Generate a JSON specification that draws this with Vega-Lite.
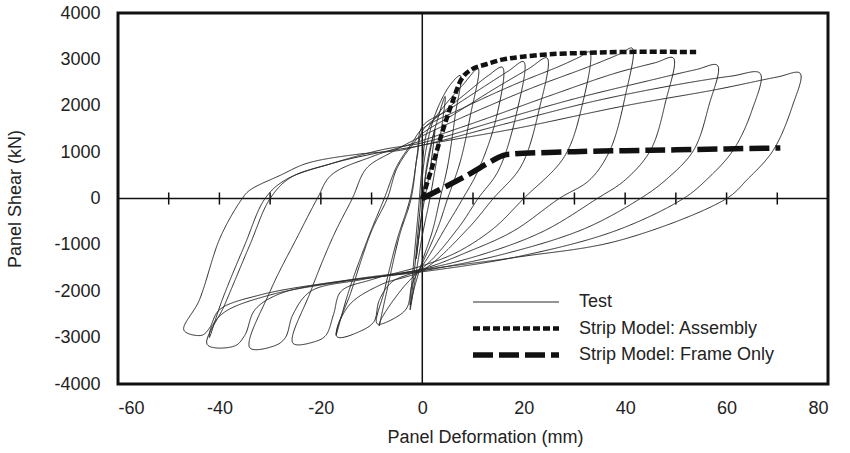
{
  "$schema": "https://vega.github.io/schema/vega-lite/v6.json",
  "width": 710,
  "height": 371,
  "autosize": "none",
  "padding": {"left": 118, "top": 13, "right": 22, "bottom": 69},
  "background": "white",
  "config": {
    "view": {"stroke": "#111", "strokeWidth": 3},
    "font": "Liberation Sans",
    "axis": {"grid": false, "ticks": false, "domain": false, "labelFont": "Liberation Sans", "labelFontSize": 18, "labelColor": "#222", "titleFont": "Liberation Sans", "titleFontSize": 18, "titleFontWeight": "normal", "titleColor": "#222"},
    "legend": {"orient": "none", "legendX": 352, "legendY": 279, "padding": 0, "symbolType": "stroke", "symbolSize": 7396, "clipHeight": 20, "rowPadding": 6.5, "labelOffset": 17, "labelFontSize": 18, "labelFont": "Liberation Sans", "labelColor": "#222", "labelLimit": 400}
  },
  "datasets": {
    "axes": [
      {"x": 0, "x2": 0, "y": -4000, "y2": 4000},
      {"x": -60, "x2": 80, "y": 0, "y2": 0}
    ],
    "ticks": [
      {"x": -50, "y": -130, "y2": 130}, {"x": -40, "y": -130, "y2": 130}, {"x": -30, "y": -130, "y2": 130}, {"x": -20, "y": -130, "y2": 130}, {"x": -10, "y": -130, "y2": 130},
      {"x": 10, "y": -130, "y2": 130}, {"x": 20, "y": -130, "y2": 130}, {"x": 30, "y": -130, "y2": 130}, {"x": 40, "y": -130, "y2": 130}, {"x": 50, "y": -130, "y2": 130}, {"x": 60, "y": -130, "y2": 130}, {"x": 70, "y": -130, "y2": 130}
    ],
    "curves": [
      {"series": "Test", "i": 1, "x": 0, "y": 0},
      {"series": "Test", "i": 2, "x": 1, "y": 700},
      {"series": "Test", "i": 3, "x": 2.5, "y": 1500},
      {"series": "Test", "i": 4, "x": 1.5, "y": 600},
      {"series": "Test", "i": 5, "x": 0, "y": -300},
      {"series": "Test", "i": 6, "x": -1.2, "y": -1300},
      {"series": "Test", "i": 7, "x": 0, "y": -200},
      {"series": "Test", "i": 8, "x": 1, "y": 800},
      {"series": "Test", "i": 9, "x": 3, "y": 1700},
      {"series": "Test", "i": 10, "x": 4.5, "y": 2200},
      {"series": "Test", "i": 11, "x": 3.5, "y": 1300},
      {"series": "Test", "i": 12, "x": 1.5, "y": 0},
      {"series": "Test", "i": 13, "x": 0, "y": -800},
      {"series": "Test", "i": 14, "x": -1.5, "y": -1800},
      {"series": "Test", "i": 15, "x": -2.4, "y": -2400},
      {"series": "Test", "i": 16, "x": -1.5, "y": -1500},
      {"series": "Test", "i": 17, "x": -0.5, "y": -300},
      {"series": "Test", "i": 18, "x": 0.5, "y": 900},
      {"series": "Test", "i": 19, "x": 2.5, "y": 1800},
      {"series": "Test", "i": 20, "x": 5.5, "y": 2450},
      {"series": "Test", "i": 21, "x": 7.5, "y": 2650},
      {"series": "Test", "i": 22, "x": 6.5, "y": 1800},
      {"series": "Test", "i": 23, "x": 5, "y": 700},
      {"series": "Test", "i": 24, "x": 3.5, "y": 0},
      {"series": "Test", "i": 25, "x": 2, "y": -700},
      {"series": "Test", "i": 26, "x": 0, "y": -1350},
      {"series": "Test", "i": 27, "x": -1.5, "y": -1900},
      {"series": "Test", "i": 28, "x": -2.4, "y": -2300},
      {"series": "Test", "i": 29, "x": -1.8, "y": -1500},
      {"series": "Test", "i": 30, "x": -0.8, "y": -300},
      {"series": "Test", "i": 31, "x": 0, "y": 700},
      {"series": "Test", "i": 32, "x": 1, "y": 1450},
      {"series": "Test", "i": 33, "x": 4, "y": 1950},
      {"series": "Test", "i": 34, "x": 8, "y": 2450},
      {"series": "Test", "i": 35, "x": 11, "y": 2800},
      {"series": "Test", "i": 36, "x": 9.5, "y": 1800},
      {"series": "Test", "i": 37, "x": 7.5, "y": 800},
      {"series": "Test", "i": 38, "x": 5, "y": 0},
      {"series": "Test", "i": 39, "x": 3, "y": -650},
      {"series": "Test", "i": 40, "x": 0, "y": -1400},
      {"series": "Test", "i": 41, "x": -2, "y": -1850},
      {"series": "Test", "i": 42, "x": -3, "y": -2350},
      {"series": "Test", "i": 43, "x": -5, "y": -2550},
      {"series": "Test", "i": 44, "x": -8.9, "y": -2700},
      {"series": "Test", "i": 45, "x": -7.5, "y": -2000},
      {"series": "Test", "i": 46, "x": -5, "y": -900},
      {"series": "Test", "i": 47, "x": -2.4, "y": 0},
      {"series": "Test", "i": 48, "x": -1, "y": 900},
      {"series": "Test", "i": 49, "x": 0, "y": 1450},
      {"series": "Test", "i": 50, "x": 4, "y": 1850},
      {"series": "Test", "i": 51, "x": 9, "y": 2300},
      {"series": "Test", "i": 52, "x": 13, "y": 2650},
      {"series": "Test", "i": 53, "x": 15.8, "y": 2830},
      {"series": "Test", "i": 54, "x": 14.5, "y": 1700},
      {"series": "Test", "i": 55, "x": 11, "y": 600},
      {"series": "Test", "i": 56, "x": 8, "y": 0},
      {"series": "Test", "i": 57, "x": 5, "y": -550},
      {"series": "Test", "i": 58, "x": 0, "y": -1450},
      {"series": "Test", "i": 59, "x": -4, "y": -1950},
      {"series": "Test", "i": 60, "x": -7, "y": -2400},
      {"series": "Test", "i": 61, "x": -8.3, "y": -2650},
      {"series": "Test", "i": 62, "x": -8.5, "y": -2750},
      {"series": "Test", "i": 63, "x": -7, "y": -2000},
      {"series": "Test", "i": 64, "x": -4.5, "y": -800},
      {"series": "Test", "i": 65, "x": -2.2, "y": 0},
      {"series": "Test", "i": 66, "x": -1, "y": 950},
      {"series": "Test", "i": 67, "x": 0, "y": 1550},
      {"series": "Test", "i": 68, "x": 5, "y": 1900},
      {"series": "Test", "i": 69, "x": 12, "y": 2400},
      {"series": "Test", "i": 70, "x": 17, "y": 2750},
      {"series": "Test", "i": 71, "x": 20, "y": 2950},
      {"series": "Test", "i": 72, "x": 18.5, "y": 1800},
      {"series": "Test", "i": 73, "x": 15, "y": 600},
      {"series": "Test", "i": 74, "x": 11, "y": 0},
      {"series": "Test", "i": 75, "x": 7, "y": -650},
      {"series": "Test", "i": 76, "x": 0, "y": -1500},
      {"series": "Test", "i": 77, "x": -6, "y": -1800},
      {"series": "Test", "i": 78, "x": -8.5, "y": -2200},
      {"series": "Test", "i": 79, "x": -9.5, "y": -2650},
      {"series": "Test", "i": 80, "x": -12, "y": -2850},
      {"series": "Test", "i": 81, "x": -16.8, "y": -2980},
      {"series": "Test", "i": 82, "x": -14, "y": -2000},
      {"series": "Test", "i": 83, "x": -10, "y": -700},
      {"series": "Test", "i": 84, "x": -6.9, "y": 0},
      {"series": "Test", "i": 85, "x": -5, "y": 650},
      {"series": "Test", "i": 86, "x": -2, "y": 1150},
      {"series": "Test", "i": 87, "x": 0, "y": 1400},
      {"series": "Test", "i": 88, "x": 6, "y": 1800},
      {"series": "Test", "i": 89, "x": 14, "y": 2350},
      {"series": "Test", "i": 90, "x": 21, "y": 2800},
      {"series": "Test", "i": 91, "x": 24.6, "y": 3030},
      {"series": "Test", "i": 92, "x": 23, "y": 1900},
      {"series": "Test", "i": 93, "x": 19.5, "y": 700},
      {"series": "Test", "i": 94, "x": 14, "y": 0},
      {"series": "Test", "i": 95, "x": 9, "y": -650},
      {"series": "Test", "i": 96, "x": 0, "y": -1550},
      {"series": "Test", "i": 97, "x": -8, "y": -1850},
      {"series": "Test", "i": 98, "x": -14, "y": -2250},
      {"series": "Test", "i": 99, "x": -16.5, "y": -2700},
      {"series": "Test", "i": 100, "x": -17, "y": -2950},
      {"series": "Test", "i": 101, "x": -14.5, "y": -2000},
      {"series": "Test", "i": 102, "x": -10.5, "y": -800},
      {"series": "Test", "i": 103, "x": -7.5, "y": 0},
      {"series": "Test", "i": 104, "x": -5, "y": 700},
      {"series": "Test", "i": 105, "x": -2, "y": 1200},
      {"series": "Test", "i": 106, "x": 0, "y": 1500},
      {"series": "Test", "i": 107, "x": 8, "y": 1950},
      {"series": "Test", "i": 108, "x": 18, "y": 2450},
      {"series": "Test", "i": 109, "x": 27, "y": 2850},
      {"series": "Test", "i": 110, "x": 31, "y": 3050},
      {"series": "Test", "i": 111, "x": 33, "y": 3160},
      {"series": "Test", "i": 112, "x": 31.5, "y": 2000},
      {"series": "Test", "i": 113, "x": 28, "y": 900},
      {"series": "Test", "i": 114, "x": 20, "y": 0},
      {"series": "Test", "i": 115, "x": 14, "y": -650},
      {"series": "Test", "i": 116, "x": 7, "y": -1150},
      {"series": "Test", "i": 117, "x": 0, "y": -1450},
      {"series": "Test", "i": 118, "x": -10, "y": -1750},
      {"series": "Test", "i": 119, "x": -16, "y": -2000},
      {"series": "Test", "i": 119.5, "x": -17.5, "y": -2500},
      {"series": "Test", "i": 120, "x": -19, "y": -2950},
      {"series": "Test", "i": 121, "x": -21, "y": -3080},
      {"series": "Test", "i": 122, "x": -25.5, "y": -3120},
      {"series": "Test", "i": 123, "x": -22, "y": -2000},
      {"series": "Test", "i": 124, "x": -17.5, "y": -800},
      {"series": "Test", "i": 125, "x": -13.8, "y": 0},
      {"series": "Test", "i": 126, "x": -11, "y": 650},
      {"series": "Test", "i": 127, "x": -6, "y": 1000},
      {"series": "Test", "i": 128, "x": 0, "y": 1350},
      {"series": "Test", "i": 129, "x": 10, "y": 1850},
      {"series": "Test", "i": 130, "x": 22, "y": 2400},
      {"series": "Test", "i": 131, "x": 33, "y": 2850},
      {"series": "Test", "i": 132, "x": 39, "y": 3120},
      {"series": "Test", "i": 133, "x": 41.4, "y": 3240},
      {"series": "Test", "i": 134, "x": 40, "y": 2200},
      {"series": "Test", "i": 135, "x": 37, "y": 1040},
      {"series": "Test", "i": 136, "x": 33, "y": 400},
      {"series": "Test", "i": 137, "x": 27, "y": 0},
      {"series": "Test", "i": 138, "x": 18, "y": -700},
      {"series": "Test", "i": 139, "x": 9, "y": -1150},
      {"series": "Test", "i": 140, "x": 0, "y": -1520},
      {"series": "Test", "i": 141, "x": -12, "y": -1750},
      {"series": "Test", "i": 142, "x": -22, "y": -2000},
      {"series": "Test", "i": 142.5, "x": -25.5, "y": -2500},
      {"series": "Test", "i": 143, "x": -27, "y": -3000},
      {"series": "Test", "i": 144, "x": -29, "y": -3170},
      {"series": "Test", "i": 145, "x": -34, "y": -3220},
      {"series": "Test", "i": 146, "x": -30, "y": -2000},
      {"series": "Test", "i": 147, "x": -24.5, "y": -800},
      {"series": "Test", "i": 148, "x": -20.7, "y": 0},
      {"series": "Test", "i": 149, "x": -18, "y": 500},
      {"series": "Test", "i": 150, "x": -10, "y": 900},
      {"series": "Test", "i": 151, "x": 0, "y": 1250},
      {"series": "Test", "i": 152, "x": 12, "y": 1700},
      {"series": "Test", "i": 153, "x": 26, "y": 2250},
      {"series": "Test", "i": 154, "x": 38, "y": 2700},
      {"series": "Test", "i": 155, "x": 46, "y": 2930},
      {"series": "Test", "i": 156, "x": 49.5, "y": 3030},
      {"series": "Test", "i": 157, "x": 48, "y": 2100},
      {"series": "Test", "i": 158, "x": 45, "y": 1040},
      {"series": "Test", "i": 159, "x": 40, "y": 400},
      {"series": "Test", "i": 160, "x": 34.5, "y": 0},
      {"series": "Test", "i": 161, "x": 24, "y": -700},
      {"series": "Test", "i": 162, "x": 12, "y": -1200},
      {"series": "Test", "i": 163, "x": 0, "y": -1530},
      {"series": "Test", "i": 164, "x": -14, "y": -1750},
      {"series": "Test", "i": 165, "x": -28, "y": -2050},
      {"series": "Test", "i": 165.5, "x": -33, "y": -2400},
      {"series": "Test", "i": 166, "x": -35, "y": -2950},
      {"series": "Test", "i": 167, "x": -37, "y": -3180},
      {"series": "Test", "i": 168, "x": -42.4, "y": -3150},
      {"series": "Test", "i": 169, "x": -39, "y": -2300},
      {"series": "Test", "i": 170, "x": -34, "y": -1000},
      {"series": "Test", "i": 171, "x": -30, "y": 0},
      {"series": "Test", "i": 172, "x": -26, "y": 450},
      {"series": "Test", "i": 173, "x": -18, "y": 750},
      {"series": "Test", "i": 174, "x": -8, "y": 1050},
      {"series": "Test", "i": 175, "x": 0, "y": 1200},
      {"series": "Test", "i": 176, "x": 14, "y": 1650},
      {"series": "Test", "i": 177, "x": 30, "y": 2150},
      {"series": "Test", "i": 178, "x": 45, "y": 2550},
      {"series": "Test", "i": 179, "x": 54, "y": 2780},
      {"series": "Test", "i": 180, "x": 58.2, "y": 2870},
      {"series": "Test", "i": 181, "x": 56.5, "y": 2000},
      {"series": "Test", "i": 182, "x": 53.5, "y": 1040},
      {"series": "Test", "i": 183, "x": 48, "y": 400},
      {"series": "Test", "i": 184, "x": 43, "y": 0},
      {"series": "Test", "i": 185, "x": 32, "y": -650},
      {"series": "Test", "i": 186, "x": 16, "y": -1200},
      {"series": "Test", "i": 187, "x": 0, "y": -1560},
      {"series": "Test", "i": 188, "x": -15, "y": -1780},
      {"series": "Test", "i": 189, "x": -30, "y": -2080},
      {"series": "Test", "i": 190, "x": -39, "y": -2450},
      {"series": "Test", "i": 191, "x": -41.7, "y": -2800},
      {"series": "Test", "i": 192, "x": -42, "y": -3000},
      {"series": "Test", "i": 193, "x": -39.5, "y": -2200},
      {"series": "Test", "i": 194, "x": -35, "y": -1000},
      {"series": "Test", "i": 195, "x": -31, "y": 0},
      {"series": "Test", "i": 196, "x": -27, "y": 400},
      {"series": "Test", "i": 197, "x": -18, "y": 750},
      {"series": "Test", "i": 198, "x": -8, "y": 1000},
      {"series": "Test", "i": 199, "x": 0, "y": 1150},
      {"series": "Test", "i": 200, "x": 16, "y": 1600},
      {"series": "Test", "i": 201, "x": 34, "y": 2100},
      {"series": "Test", "i": 202, "x": 50, "y": 2450},
      {"series": "Test", "i": 203, "x": 61, "y": 2640},
      {"series": "Test", "i": 204, "x": 66.6, "y": 2700},
      {"series": "Test", "i": 205, "x": 65, "y": 1900},
      {"series": "Test", "i": 206, "x": 61.3, "y": 1040},
      {"series": "Test", "i": 207, "x": 56, "y": 400},
      {"series": "Test", "i": 208, "x": 51.5, "y": 0},
      {"series": "Test", "i": 209, "x": 38, "y": -700},
      {"series": "Test", "i": 210, "x": 19, "y": -1250},
      {"series": "Test", "i": 211, "x": 0, "y": -1580},
      {"series": "Test", "i": 212, "x": -16, "y": -1780},
      {"series": "Test", "i": 213, "x": -32, "y": -2080},
      {"series": "Test", "i": 213.5, "x": -40, "y": -2400},
      {"series": "Test", "i": 214, "x": -42, "y": -2800},
      {"series": "Test", "i": 215, "x": -43.5, "y": -2950},
      {"series": "Test", "i": 216, "x": -47, "y": -2840},
      {"series": "Test", "i": 217, "x": -44, "y": -2200},
      {"series": "Test", "i": 218, "x": -39.8, "y": -830},
      {"series": "Test", "i": 219, "x": -35.5, "y": 0},
      {"series": "Test", "i": 220, "x": -34, "y": 180},
      {"series": "Test", "i": 221, "x": -28, "y": 500},
      {"series": "Test", "i": 222, "x": -22.7, "y": 760},
      {"series": "Test", "i": 223, "x": -13, "y": 950},
      {"series": "Test", "i": 224, "x": -4.3, "y": 1040},
      {"series": "Test", "i": 225, "x": 0, "y": 1150},
      {"series": "Test", "i": 226, "x": 18, "y": 1500},
      {"series": "Test", "i": 227, "x": 40, "y": 2000},
      {"series": "Test", "i": 228, "x": 58, "y": 2350},
      {"series": "Test", "i": 229, "x": 70, "y": 2620},
      {"series": "Test", "i": 230, "x": 74.5, "y": 2700},
      {"series": "Test", "i": 231, "x": 73, "y": 2000},
      {"series": "Test", "i": 232, "x": 69.2, "y": 1040},
      {"series": "Test", "i": 233, "x": 64, "y": 400},
      {"series": "Test", "i": 234, "x": 60, "y": 0},
      {"series": "Test", "i": 235, "x": 39, "y": -900},
      {"series": "Test", "i": 236, "x": 19, "y": -1260},
      {"series": "Test", "i": 237, "x": 0, "y": -1540},
      {"series": "Test", "i": 238, "x": -6, "y": -1650},
      {"series": "Strip Model: Assembly", "i": 1, "x": 0, "y": 0},
      {"series": "Strip Model: Assembly", "i": 2, "x": 2, "y": 700},
      {"series": "Strip Model: Assembly", "i": 3, "x": 4, "y": 1450},
      {"series": "Strip Model: Assembly", "i": 4, "x": 6, "y": 2100},
      {"series": "Strip Model: Assembly", "i": 5, "x": 8, "y": 2620},
      {"series": "Strip Model: Assembly", "i": 6, "x": 10, "y": 2800},
      {"series": "Strip Model: Assembly", "i": 7, "x": 12.8, "y": 2900},
      {"series": "Strip Model: Assembly", "i": 8, "x": 16, "y": 3000},
      {"series": "Strip Model: Assembly", "i": 9, "x": 19.3, "y": 3050},
      {"series": "Strip Model: Assembly", "i": 10, "x": 25, "y": 3110},
      {"series": "Strip Model: Assembly", "i": 11, "x": 32.5, "y": 3140},
      {"series": "Strip Model: Assembly", "i": 12, "x": 40, "y": 3160},
      {"series": "Strip Model: Assembly", "i": 13, "x": 54, "y": 3160},
      {"series": "Strip Model: Frame Only", "i": 1, "x": 0, "y": 0},
      {"series": "Strip Model: Frame Only", "i": 2, "x": 8, "y": 450},
      {"series": "Strip Model: Frame Only", "i": 3, "x": 16, "y": 930},
      {"series": "Strip Model: Frame Only", "i": 4, "x": 18, "y": 960},
      {"series": "Strip Model: Frame Only", "i": 5, "x": 30, "y": 1010},
      {"series": "Strip Model: Frame Only", "i": 6, "x": 45, "y": 1040},
      {"series": "Strip Model: Frame Only", "i": 7, "x": 60, "y": 1070},
      {"series": "Strip Model: Frame Only", "i": 8, "x": 70.6, "y": 1090}
    ]
  },
  "layer": [
    {
      "data": {"name": "axes"},
      "mark": {"type": "rule", "color": "#111", "strokeWidth": 1.5},
      "encoding": {
        "x": {"field": "x", "type": "quantitative", "scale": {"domain": [-60, 80], "nice": false, "zero": false}, "axis": {"values": [-60, -40, -20, 0, 20, 40, 60, 80], "labelExpr": "'' + datum.value", "title": "Panel Deformation (mm)", "labelPadding": 15, "labelDx": 4, "titleX": 367, "titleY": 53, "titleBaseline": "middle"}},
        "x2": {"field": "x2"},
        "y": {"field": "y", "type": "quantitative", "scale": {"domain": [-4000, 4000], "nice": false}, "axis": {"values": [-4000, -3000, -2000, -1000, 0, 1000, 2000, 3000, 4000], "labelExpr": "'' + datum.value", "title": "Panel Shear (kN)", "labelPadding": 18, "labelDy": 4, "titleX": -103, "titleBaseline": "middle"}},
        "y2": {"field": "y2"}
      }
    },
    {
      "data": {"name": "ticks"},
      "mark": {"type": "rule", "color": "#111", "strokeWidth": 1.5},
      "encoding": {
        "x": {"field": "x", "type": "quantitative"},
        "y": {"field": "y", "type": "quantitative"},
        "y2": {"field": "y2"}
      }
    },
    {
      "data": {"name": "curves"},
      "mark": {"type": "line", "strokeCap": "butt", "strokeJoin": "round", "interpolate": "catmull-rom"},
      "encoding": {
        "x": {"field": "x", "type": "quantitative"},
        "y": {"field": "y", "type": "quantitative"},
        "order": {"field": "i", "type": "quantitative"},
        "color": {"field": "series", "type": "nominal", "title": null, "scale": {"domain": ["Test", "Strip Model: Assembly", "Strip Model: Frame Only"], "range": ["#2a2a2a", "#111111", "#111111"]}},
        "strokeDash": {"field": "series", "type": "nominal", "title": null, "scale": {"domain": ["Test", "Strip Model: Assembly", "Strip Model: Frame Only"], "range": [[1, 0], [7, 3], [20, 6]]}},
        "strokeWidth": {"field": "series", "type": "nominal", "title": null, "scale": {"type": "ordinal", "domain": ["Test", "Strip Model: Assembly", "Strip Model: Frame Only"], "range": [1, 4.5, 5.5]}}
      }
    }
  ]
}
